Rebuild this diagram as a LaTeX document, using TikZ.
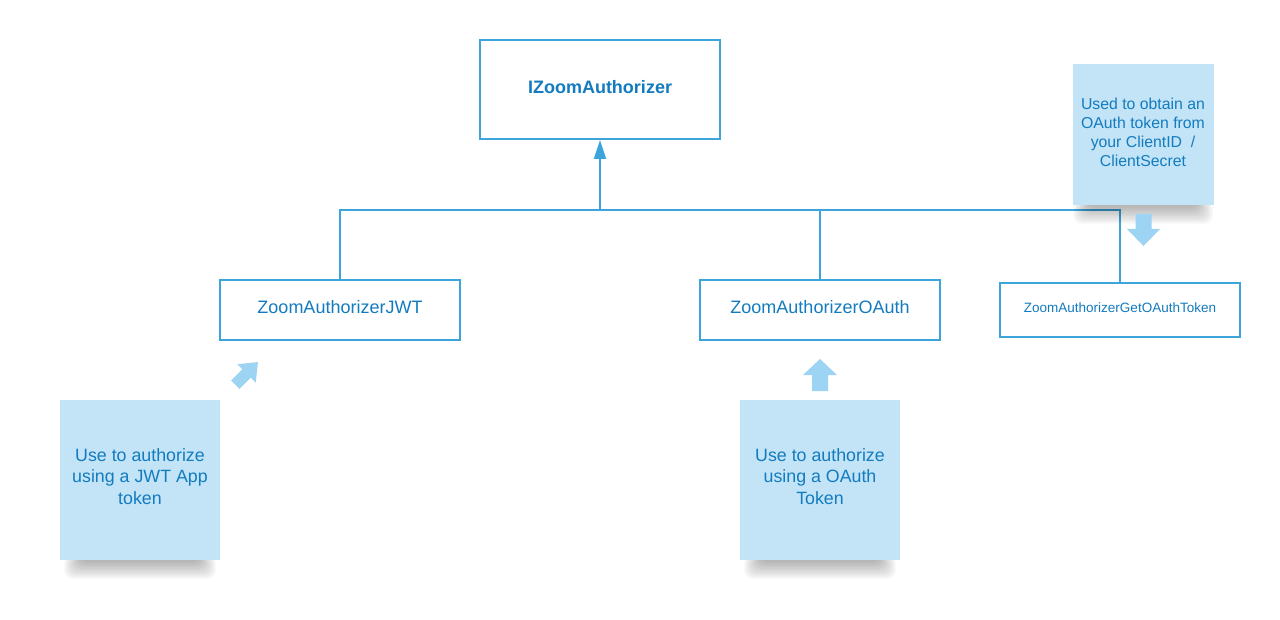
\documentclass[tikz,border=0pt]{standalone}
\usepackage{fontspec}
\setmainfont{Liberation Sans}
\usetikzlibrary{arrows.meta}
\definecolor{lineblue}{HTML}{3DA5DC}
\definecolor{txtblue}{HTML}{137BBF}
\definecolor{notefill}{HTML}{C2E4F6}
\definecolor{arrfill}{HTML}{9DD3F3}
\tikzset{
  cls/.style={draw=lineblue, line width=2pt, fill=white, minimum width=240pt, inner sep=0pt, text=txtblue, font=\fontsize{18}{20}\selectfont},
  note/.style={fill=notefill, minimum width=160pt, minimum height=160pt, inner sep=0pt, text=txtblue, align=center, font=\fontsize{17.8}{21.5}\selectfont},
  conn/.style={draw=lineblue, line width=2pt},
  blockarr/.style={fill=arrfill, draw=none},
}
\newcommand{\noteshadow}[3]{% x1 x2 y
  \foreach \i in {0,...,13}{
    \fill[black, opacity=0.022, rounded corners=8pt] (#1+\i*1.3,#3-4) rectangle (#2-\i*1.3,#3+19-\i*1.3);
  }
}
\begin{document}
\begin{tikzpicture}[x=1pt,y=-1pt]
\useasboundingbox (0,0) rectangle (1280,620);
% classes
\node[cls, minimum height=99pt, text depth=6pt, font=\bfseries\fontsize{18}{20}\selectfont] (iz) at (600,89.5) {IZoomAuthorizer};
\node[cls, minimum height=60pt, text depth=7pt] (jwt) at (340,310) {ZoomAuthorizerJWT};
\node[cls, minimum height=60pt, text depth=7pt] (oauth) at (820,310) {ZoomAuthorizerOAuth};
\node[cls, minimum height=54pt, text depth=5.5pt, font=\fontsize{13.5}{15}\selectfont] (get) at (1120,310) {ZoomAuthorizerGetOAuthToken};
% connectors
\coordinate (bus) at (600,210);
\draw[conn] (jwt.north) |- (bus) -| (get.north);
\draw[conn] (oauth.north) -- (oauth.north |- bus);
\draw[conn, -{Triangle[width=12pt,length=19pt]}] (bus) -- (iz.south);
% shadows
\noteshadow{64}{216}{560}
\noteshadow{744}{896}{560}
\noteshadow{1073}{1213}{205}
% notes
\node[note, text depth=7pt] (njwt) at (140,480) {Use to authorize\\using a JWT App\\token};
\node[note, text depth=7pt] (noauth) at (820,480) {Use to authorize\\using a OAuth\\Token};
\node[note, minimum width=141pt, minimum height=141pt, text depth=4.5pt, font=\fontsize{15.8}{18.7}\selectfont] (nget) at (1143,134.5) {Used to obtain an\\OAuth token from\\your ClientID\ \ /\\ClientSecret};
% block arrows
\fill[blockarr] (1135.5,214) -- (1151.5,214) -- (1151.5,229) -- (1160,229) -- (1143.5,246) -- (1127,229) -- (1135.5,229) -- cycle;
\fill[blockarr] (812,391) -- (828,391) -- (828,375) -- (837,375) -- (820,359) -- (803,375) -- (812,375) -- cycle;
\begin{scope}[shift={(248,372)}, rotate=-45]
\fill[blockarr] (-6,18) -- (6,18) -- (6,2) -- (13,2) -- (0,-14) -- (-13,2) -- (-6,2) -- cycle;
\end{scope}
\end{tikzpicture}
\end{document}
